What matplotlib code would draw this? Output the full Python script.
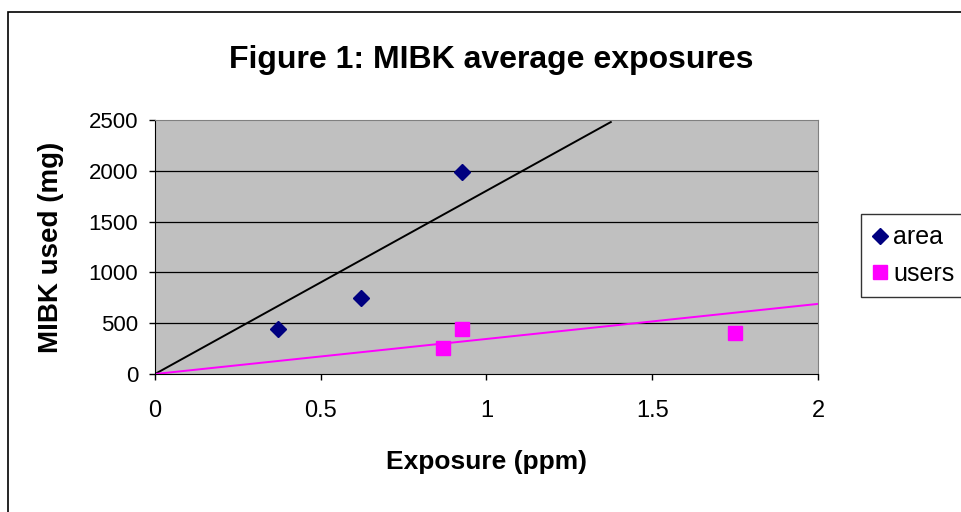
import matplotlib
matplotlib.use("Agg")
import matplotlib.pyplot as plt
from matplotlib.patches import Rectangle

# values
area_x = [0.37, 0.62, 0.925]
area_y = [440, 750, 1990]
users_x = [0.87, 0.925, 1.75]
users_y = [260, 440, 400]
area_trend_x = [0, 1.375]
area_trend_y = [0, 2480]
users_trend_x = [0, 2.0]
users_trend_y = [0, 690]
x_ticks = [0, 0.5, 1, 1.5, 2]
y_ticks = [0, 500, 1000, 1500, 2000, 2500]

plt.rcParams["font.family"] = ["Liberation Sans", "DejaVu Sans"]

fig = plt.figure(figsize=(9.61, 5.12), dpi=100)
fig.patches.append(Rectangle((8 / 961, -0.1), 1.2, 1 - 12 / 512 + 0.1,
                             transform=fig.transFigure, fill=False,
                             edgecolor="black", lw=1.2))

ax = fig.add_axes([155 / 961, 1 - 374 / 512, 663 / 961, 254 / 512])
ax.set_facecolor("#C0C0C0")
ax.set_xlim(0, 2)
ax.set_ylim(0, 2500)
ax.set_xticks(x_ticks)
ax.set_xticklabels(["0", "0.5", "1", "1.5", "2"])
ax.set_yticks(y_ticks)
ax.tick_params(direction="out", length=4, width=1, colors="black")
ax.tick_params(axis="x", labelsize=17, pad=15)
ax.tick_params(axis="y", labelsize=16, pad=8)
for y in y_ticks[1:-1]:
    ax.axhline(y, color="black", lw=0.9, zorder=1)
for s in ["top", "right"]:
    ax.spines[s].set_color("#808080")
for s in ["left", "bottom"]:
    ax.spines[s].set_color("black")

ax.plot(area_trend_x, area_trend_y, color="black", lw=1.4, zorder=2)
ax.plot(users_trend_x, users_trend_y, color="#FF00FF", lw=1.4, zorder=2)
ax.plot(area_x, area_y, "D", color="#000080", ms=8, ls="none", label="area", zorder=3)
ax.plot(users_x, users_y, "s", color="#FF00FF", ms=10, ls="none", label="users", zorder=3)

ax.set_xlabel("Exposure (ppm)", fontsize=19, fontweight="bold", labelpad=20)
ax.set_ylabel("MIBK used (mg)", fontsize=20, fontweight="bold", labelpad=18)
fig.text(491 / 961, 1 - 60 / 512, "Figure 1: MIBK average exposures",
         fontsize=23, fontweight="bold", ha="center", va="center")

leg = fig.legend(loc="upper left", bbox_to_anchor=(861 / 961, 1 - 214 / 512),
                 fontsize=18, frameon=True, fancybox=False, handlelength=0.6,
                 handletextpad=0.25, borderpad=0.45, borderaxespad=0,
                 labelspacing=0.5, markerscale=1.0)
leg.get_frame().set_edgecolor("black")
leg.get_frame().set_linewidth(1)

fig.savefig("out.png", dpi=100)
